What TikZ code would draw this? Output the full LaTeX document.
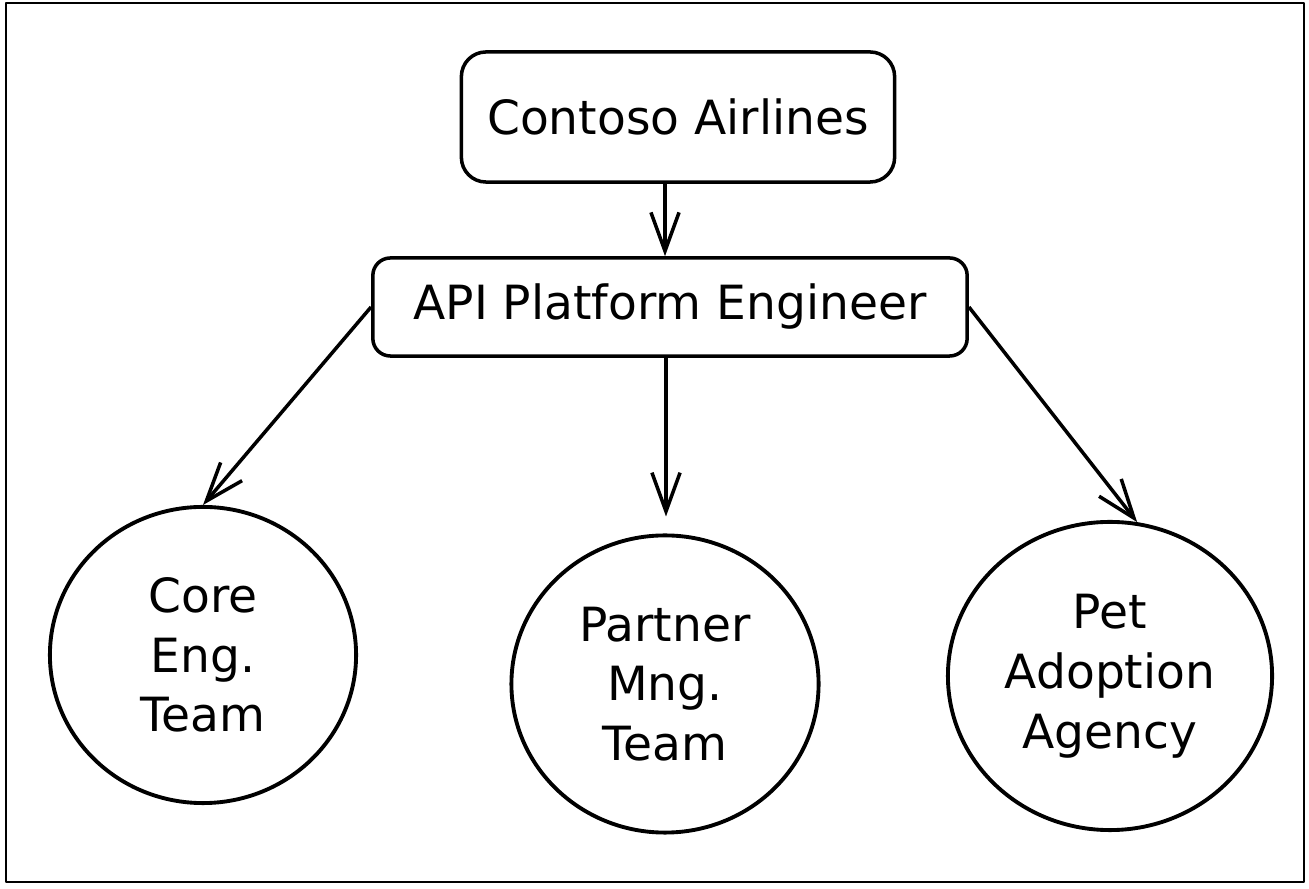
\documentclass[tikz,border=0pt]{standalone}
\usepackage{fontspec}
\setmainfont{DejaVu Sans}
\usetikzlibrary{arrows.meta,shapes.geometric}
\tikzset{
  orgbox/.style={draw,line width=1pt,rounded corners=7pt,inner sep=0pt,
    font=\fontsize{13.4}{17}\selectfont},
  teamcircle/.style={draw,ellipse,line width=1.1pt,inner sep=0pt,align=center,
    font=\fontsize{13.4}{17}\selectfont},
  link/.style={line width=1pt,-{Straight Barb[length=11pt,width=8pt,line width=1pt]}}
}

\begin{document}
\begin{tikzpicture}[x=0.01cm,y=-0.01cm,line join=round]
  \useasboundingbox (0,0) rectangle (1309,889);
  \draw[line width=0.8pt] (6,3) rectangle (1304,882);
  \node[orgbox,minimum width=4.33cm,minimum height=1.3cm] (contoso) at (678,117) {Contoso Airlines};
  \node[orgbox,rounded corners=5pt,minimum width=5.94cm,minimum height=0.98cm] (api) at (670,307) {API Platform Engineer};
  \node[teamcircle,minimum width=3.06cm,minimum height=2.96cm] (core) at (203,655) {Core\\Eng.\\Team};
  \node[teamcircle,minimum width=3.07cm,minimum height=2.97cm] (partner) at (665,684) {Partner\\Mng.\\Team};
  \node[teamcircle,minimum width=3.24cm,minimum height=3.08cm] (pet) at (1110,676) {Pet\\Adoption\\Agency};
  \draw[link] (contoso.south -| 665,0) -- (api.north -| 665,0);
  \draw[link] (api.west) -- (core.north);
  \draw[link,shorten >=0.17cm] (api.south -| 666,0) -- (partner.north -| 666,0);
  \draw[link] (api.east) -- (pet.80);
\end{tikzpicture}
\end{document}
